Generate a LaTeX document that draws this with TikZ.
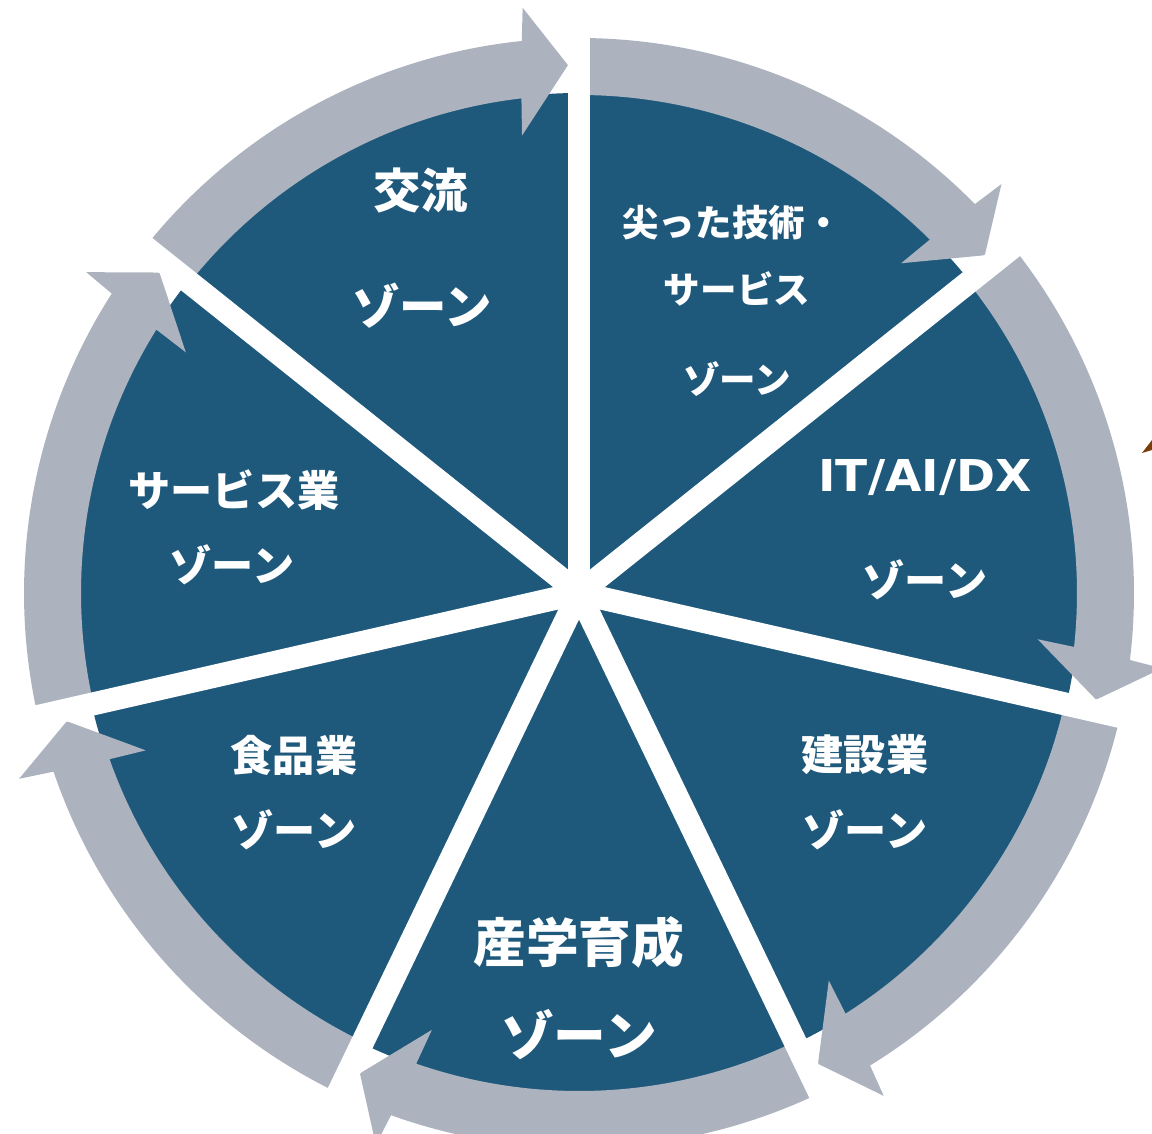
\documentclass[tikz,border=0pt]{standalone}
\usepackage{fontspec}
\newfontfamily\jpfont{Noto Sans CJK JP}
\newfontfamily\latinfont[FakeStretch=1.07]{DejaVu Sans}

\definecolor{zoneblue}{RGB}{30,89,124}
\definecolor{ringgray}{RGB}{173,179,190}
\definecolor{markbrown}{RGB}{122,62,8}

\tikzset{
    zone/.style={fill=zoneblue},
    ring/.style={fill=ringgray},
    gap/.style={draw=white, line width=0.46cm},
    zonetext/.style={text=white, inner sep=0pt},
    smalltext/.style={zonetext, font=\jpfont\bfseries\fontsize{20.8pt}{24pt}\selectfont},
    midtext/.style={zonetext, font=\jpfont\bfseries\fontsize{24pt}{28pt}\selectfont},
    bigtext/.style={zonetext, font=\jpfont\bfseries\fontsize{27pt}{30pt}\selectfont},
    hugetext/.style={zonetext, font=\jpfont\bfseries\fontsize{30pt}{34pt}\selectfont},
    latintext/.style={zonetext, font=\latinfont\bfseries\fontsize{25pt}{29pt}\selectfont}
}

\begin{document}
\begin{tikzpicture}[x=0.02cm, y=0.02cm]
    \useasboundingbox (-579,-540) rectangle (573,593);

    % Zones
    \fill[zone] (0,0) -- (90:500) arc[start angle=90, end angle=38.571, radius=500] -- cycle;
    \fill[zone] (0,0) -- (38.571:500) arc[start angle=38.571, end angle=-12.857, radius=500] -- cycle;
    \fill[zone] (0,0) -- (-12.857:500) arc[start angle=-12.857, end angle=-64.286, radius=500] -- cycle;
    \fill[zone] (0,0) -- (-64.286:500) arc[start angle=-64.286, end angle=-115.714, radius=500] -- cycle;
    \fill[zone] (0,0) -- (-115.714:500) arc[start angle=-115.714, end angle=-167.143, radius=500] -- cycle;
    \fill[zone] (0,0) -- (-167.143:500) arc[start angle=-167.143, end angle=-218.571, radius=500] -- cycle;
    \fill[zone] (0,0) -- (141.429:500) arc[start angle=141.429, end angle=90, radius=500] -- cycle;

    % Cycle arrows
    \fill[ring] (90:555) arc[start angle=90, end angle=44.49, radius=555] -- (44.07:588) -- (39.77:528) -- (45.67:461) -- (45.21:498) arc[start angle=45.21, end angle=90, radius=498] -- cycle;
    \fill[ring] (38.571:555) arc[start angle=38.571, end angle=-6.937, radius=555] -- (-7.357:588) -- (-11.657:528) -- (-5.757:461) -- (-6.217:498) arc[start angle=-6.217, end angle=38.571, radius=498] -- cycle;
    \fill[ring] (-12.857:555) arc[start angle=-12.857, end angle=-58.366, radius=555] -- (-58.786:588) -- (-63.086:528) -- (-57.186:461) -- (-57.646:498) arc[start angle=-57.646, end angle=-12.857, radius=498] -- cycle;
    \fill[ring] (-64.286:555) arc[start angle=-64.286, end angle=-109.794, radius=555] -- (-110.214:588) -- (-114.514:528) -- (-108.614:461) -- (-109.074:498) arc[start angle=-109.074, end angle=-64.286, radius=498] -- cycle;
    \fill[ring] (-115.714:555) arc[start angle=-115.714, end angle=-161.223, radius=555] -- (-161.643:590) -- (-165.943:528) -- (-160.043:461) -- (-160.503:498) arc[start angle=-160.503, end angle=-115.714, radius=498] -- cycle;
    \fill[ring] (-167.143:555) arc[start angle=-167.143, end angle=-212.651, radius=555] -- (-213.071:588) -- (-217.371:528) -- (-211.471:461) -- (-211.931:498) arc[start angle=-211.931, end angle=-167.143, radius=498] -- cycle;
    \fill[ring] (141.429:555) arc[start angle=141.429, end angle=95.92, radius=555] -- (95.5:588) -- (91.2:528) -- (97.1:461) -- (96.64:498) arc[start angle=96.64, end angle=141.429, radius=498] -- cycle;

    % Gaps between zones
    \draw[gap] (0,0) -- (90:620);
    \draw[gap] (0,0) -- (38.571:620);
    \draw[gap] (0,0) -- (-12.857:620);
    \draw[gap] (0,0) -- (-64.286:620);
    \draw[gap] (0,0) -- (-115.714:620);
    \draw[gap] (0,0) -- (-167.143:620);
    \draw[gap] (0,0) -- (141.429:620);

    % Stray mark at the right edge
    \fill[markbrown] (563,140) -- (573,153) -- (573,143) -- cycle;

    % Labels
    \node[bigtext] (koryu) at (-158,403) {交流};
    \node[bigtext] (koryuzone) at (-157,287) {ゾーン};

    \node[smalltext] (sentan) at (153,370) {尖った技術・};
    \node[smalltext] (service) at (158,304) {サービス};
    \node[smalltext] (sentanzone) at (158,214) {ゾーン};

    \node[latintext] (itaidx) at (346,115) {IT/AI/DX};
    \node[midtext] (itaidxzone) at (346,13) {ゾーン};

    \node[midtext] (kensetsu) at (286,-162) {建設業};
    \node[midtext] (kensetsuzone) at (286,-237) {ゾーン};

    \node[hugetext] (sangaku) at (0,-349) {産学育成};
    \node[hugetext] (sangakuzone) at (0,-442) {ゾーン};

    \node[midtext] (shokuhin) at (-285,-162) {食品業};
    \node[midtext] (shokuhinzone) at (-285,-237) {ゾーン};

    \node[midtext] (servicegyo) at (-345,103) {サービス業};
    \node[midtext] (servicezone) at (-347,28) {ゾーン};

\end{tikzpicture}
\end{document}
